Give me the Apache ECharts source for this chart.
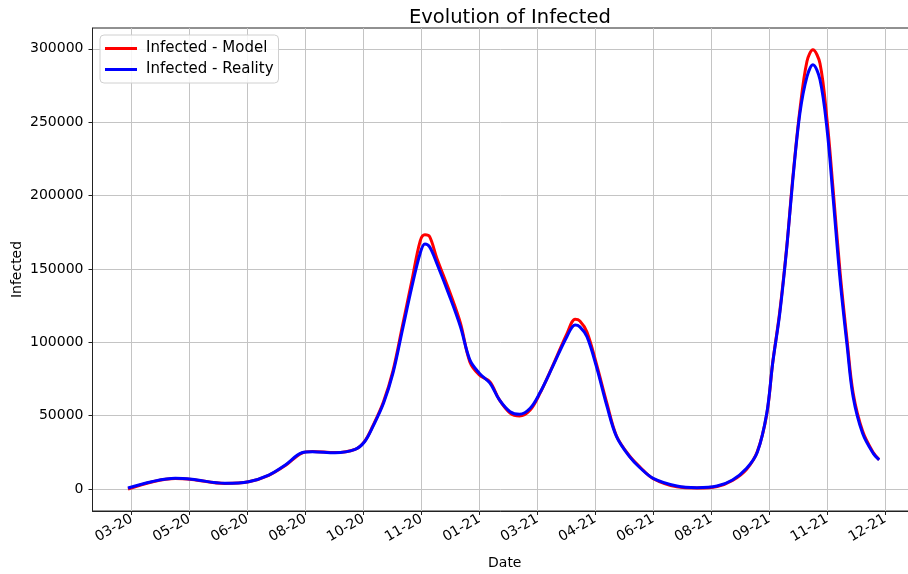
<!DOCTYPE html>
<html>
<head>
<meta charset="utf-8">
<script src="https://cdn.jsdelivr.net/npm/echarts@6/dist/echarts.min.js"></script>
<style>html,body{margin:0;padding:0;background:#fff}#c{width:908px;height:574px}</style>
</head>
<body>
<div id="c"></div>
<script>
// Days counted from the first labelled tick ("03-20")
const days = [-3, 17, 37, 51, 79, 99, 116, 130, 144, 153, 172, 189, 197, 204, 213, 221, 229, 237, 244, 248, 252, 258, 269, 278, 286, 294, 303, 311, 320, 328, 337, 345, 356, 368, 375, 379, 385, 393, 402, 410, 421, 430, 441, 461, 478, 495, 508, 520, 529, 537, 542, 548, 554, 559, 565, 571, 576, 582, 588, 593, 599, 605, 610, 618, 627, 632];
const infectedReality = [700, 5000, 7300, 6600, 3900, 5000, 9500, 16400, 24700, 25400, 24700, 27000, 32200, 42500, 58400, 78900, 108400, 137900, 160700, 167000, 165000, 153900, 131100, 110700, 88000, 78900, 72100, 60700, 52700, 50900, 55000, 65200, 83400, 103800, 111800, 110500, 103800, 83400, 56100, 35700, 22000, 14300, 7300, 2000, 900, 2000, 6100, 14100, 25000, 51600, 85700, 119800, 165200, 210700, 256100, 281100, 289100, 278900, 244800, 199300, 142500, 97000, 62900, 38000, 24300, 19800];
const infectedModel = [0, 4800, 7200, 6500, 3800, 4900, 9300, 16000, 24500, 25500, 24800, 27000, 32500, 43000, 59500, 80500, 111000, 142000, 169000, 173200, 172000, 157500, 134300, 113200, 86600, 77700, 73000, 60700, 51800, 49800, 53900, 64800, 83900, 105700, 115700, 114500, 107000, 85200, 58000, 36100, 22500, 14800, 7000, 1500, 700, 1700, 5800, 13500, 25500, 51000, 86000, 121000, 166000, 212000, 258400, 291500, 299300, 290000, 251000, 205000, 147500, 100500, 65500, 39500, 24800, 20000];
const xTickLabels = ['03-20', '05-20', '06-20', '08-20', '10-20', '11-20', '01-21', '03-21', '04-21', '06-21', '08-21', '09-21', '11-21', '12-21'];
const xTickStep = 49;
const yTicks = [0, 50000, 100000, 150000, 200000, 250000, 300000];

const xTicks = xTickLabels.map((_, i) => i * xTickStep);
const font = 'DejaVu Sans';
const chart = echarts.init(document.getElementById('c'), null, {renderer: 'canvas'});
chart.setOption({
  animation: false,
  textStyle: {fontFamily: font},
  title: {
    text: 'Evolution of Infected',
    left: 404, top: 3,
    textStyle: {fontFamily: font, fontSize: 19.5, fontWeight: 'normal', color: '#000'}
  },
  legend: {
    orient: 'vertical', left: 100, top: 35,
    data: ['Infected - Model', 'Infected - Reality'],
    icon: 'rect', itemWidth: 32, itemHeight: 3, itemGap: 6,
    padding: [6, 5, 6, 5],
    backgroundColor: 'rgba(255,255,255,0.85)',
    borderColor: '#d0d0d0', borderWidth: 1, borderRadius: 4,
    textStyle: {fontFamily: font, fontSize: 15, color: '#000', padding: [0, 0, 0, 4]}
  },
  grid: {
    left: 92.5, right: -9, top: 28, bottom: 63,
    outerBoundsMode: 'none',
    show: true, borderColor: '#222', borderWidth: 1, backgroundColor: 'transparent',
    containLabel: false
  },
  xAxis: {
    type: 'value', min: -33, max: 664,
    name: 'Date', nameLocation: 'middle', nameGap: 45, nameMoveOverlap: false,
    nameTextStyle: {fontFamily: font, fontSize: 14, color: '#000'},
    axisLine: {show: true, onZero: false, lineStyle: {color: '#222', width: 1}},
    axisTick: {show: true, length: 4, customValues: xTicks, lineStyle: {color: '#222'}},
    axisLabel: {
      customValues: xTicks, rotate: 30, margin: 7,
      fontFamily: font, fontSize: 14, color: '#000',
      formatter: v => xTickLabels[Math.round(v / xTickStep)] || ''
    },
    splitLine: {show: true, lineStyle: {color: '#c4c4c4', width: 1}}
  },
  yAxis: {
    type: 'value', min: -15000, max: 314200,
    name: 'Infected', nameLocation: 'middle', nameGap: 68, nameMoveOverlap: false,
    nameTextStyle: {fontFamily: font, fontSize: 14, color: '#000'},
    axisLine: {show: true, onZero: false, lineStyle: {color: '#222', width: 1}},
    axisTick: {show: true, length: 4, customValues: yTicks, lineStyle: {color: '#222'}},
    axisLabel: {customValues: yTicks, margin: 9, fontFamily: font, fontSize: 14, color: '#000',
      formatter: v => String(v)},
    splitLine: {show: true, lineStyle: {color: '#c4c4c4', width: 1}}
  },
  series: [
    {
      name: 'Infected - Model', type: 'line', smooth: 0.35, showSymbol: false,
      color: '#ff0000', lineStyle: {color: '#ff0000', width: 3},
      data: days.map((d, i) => [d, infectedModel[i]])
    },
    {
      name: 'Infected - Reality', type: 'line', smooth: 0.35, showSymbol: false,
      color: '#0000ff', lineStyle: {color: '#0000ff', width: 3},
      data: days.map((d, i) => [d, infectedReality[i]])
    }
  ]
});
</script>
</body>
</html>
